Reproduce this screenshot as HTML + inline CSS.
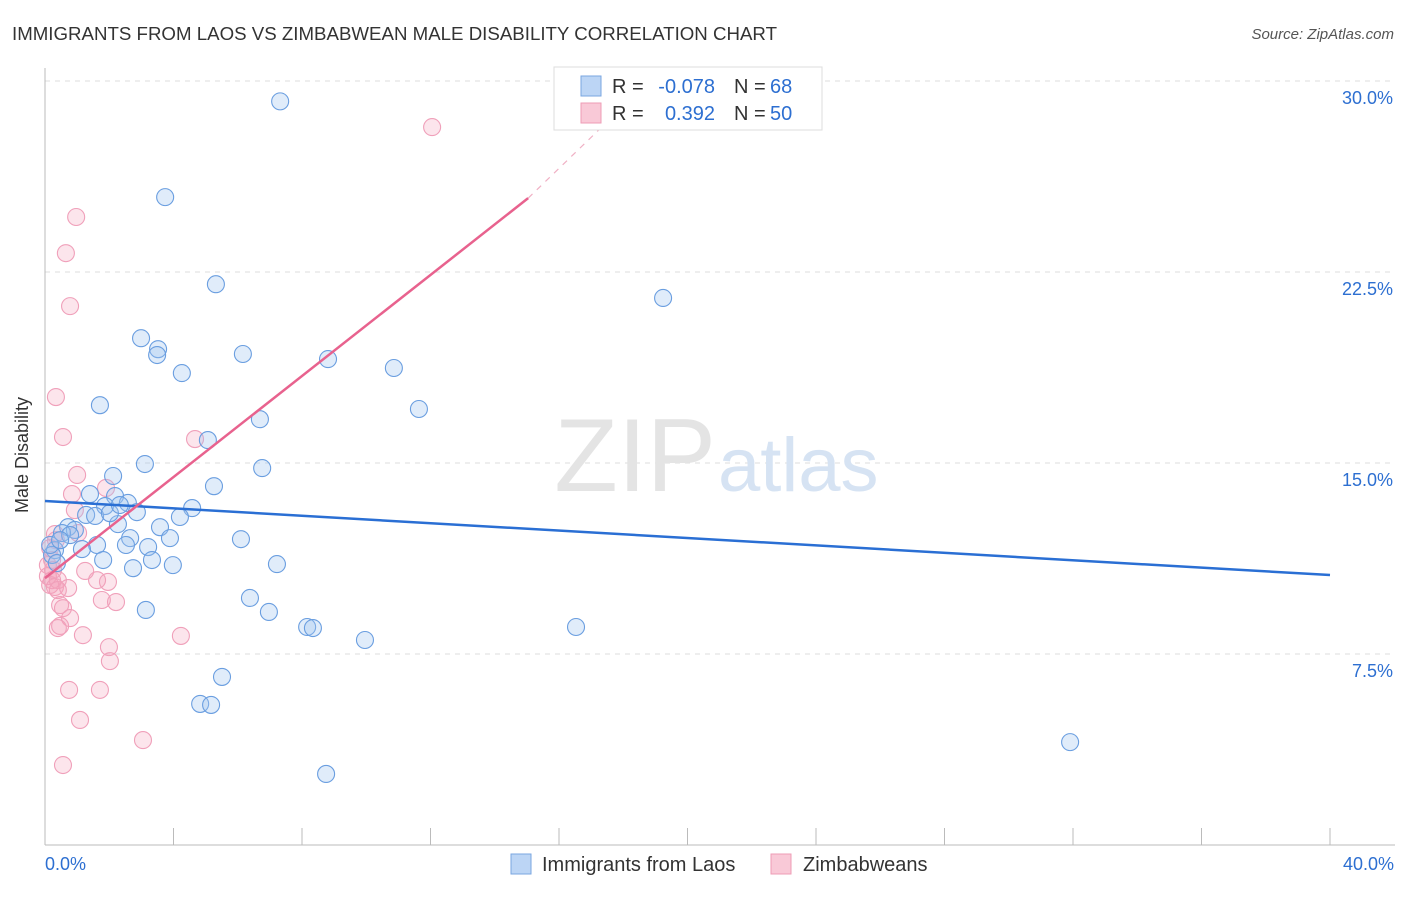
<!DOCTYPE html>
<html><head><meta charset="utf-8"><style>
body{margin:0;background:#fff;font-family:"Liberation Sans",sans-serif;}
svg text{font-family:"Liberation Sans",sans-serif;}
</style></head><body>
<svg width="1406" height="892" xmlns="http://www.w3.org/2000/svg">
<text x="12" y="40" font-size="18" fill="#333" textLength="765" lengthAdjust="spacingAndGlyphs">IMMIGRANTS FROM LAOS VS ZIMBABWEAN MALE DISABILITY CORRELATION CHART</text>
<text x="1394" y="39" font-size="15" fill="#555" text-anchor="end" font-style="italic">Source: ZipAtlas.com</text>
<g id="grid"></g>
<text x="716" y="491" font-size="104" fill="#e4e4e4" text-anchor="end" font-family="Liberation Serif">ZIP</text>
<text x="718" y="491" font-size="76" fill="#d6e3f3">atlas</text>
<text x="28" y="455" font-size="18" fill="#333" text-anchor="middle" transform="rotate(-90 28 455)">Male Disability</text>
<g id="pts"></g>
<g id="lines"></g>
<g>
<rect x="554" y="67" width="268" height="63" fill="#fff" stroke="#ddd"/>
<rect x="581" y="76" width="20" height="20" fill="#bcd5f5" stroke="#7aa6e0"/>
<rect x="581" y="103" width="20" height="20" fill="#f9c9d7" stroke="#ee9cb6"/>
<text x="612" y="93" font-size="20" fill="#333">R =</text>
<text x="715" y="93" font-size="20" fill="#2d6fd1" text-anchor="end">-0.078</text>
<text x="734" y="93" font-size="20" fill="#333">N =</text>
<text x="770" y="93" font-size="20" fill="#2d6fd1">68</text>
<text x="612" y="120" font-size="20" fill="#333">R =</text>
<text x="715" y="120" font-size="20" fill="#2d6fd1" text-anchor="end">0.392</text>
<text x="734" y="120" font-size="20" fill="#333">N =</text>
<text x="770" y="120" font-size="20" fill="#2d6fd1">50</text>
</g>
<g>
<rect x="511" y="854" width="20" height="20" fill="#bcd5f5" stroke="#7aa6e0"/>
<text x="542" y="871" font-size="20" fill="#333">Immigrants from Laos</text>
<rect x="771" y="854" width="20" height="20" fill="#f9c9d7" stroke="#ee9cb6"/>
<text x="803" y="871" font-size="20" fill="#333">Zimbabweans</text>
</g>
<text x="45" y="870" font-size="18" fill="#2d6fd1">0.0%</text>
<text x="1394" y="870" font-size="18" fill="#2d6fd1" text-anchor="end">40.0%</text>
</svg>
<script>
const blueX=[7.32,3.74,5.32,19.24,2.99,3.52,3.49,6.16,8.81,4.26,10.86,1.71,11.64,6.69,5.07,3.11,6.76,2.12,5.26,1.40,2.18,2.58,1.87,4.58,2.86,1.28,1.56,4.20,2.27,3.58,0.72,0.93,0.53,0.78,2.65,3.89,6.10,2.52,1.62,3.21,1.15,0.31,0.22,1.81,3.33,3.98,7.22,2.74,0.37,6.38,3.14,6.97,8.16,8.34,16.53,9.96,5.51,4.83,5.17,31.91,8.75,0.16,0.47,2.02,2.33];
const blueY=[29.2,25.44,22.02,21.48,19.90,19.47,19.24,19.28,19.08,18.53,18.73,17.27,17.12,16.72,15.90,14.96,14.80,14.49,14.09,13.78,13.70,13.43,13.31,13.23,13.07,12.96,12.92,12.88,12.60,12.48,12.48,12.37,12.25,12.17,12.05,12.05,12.01,11.78,11.78,11.70,11.62,11.58,11.39,11.19,11.19,10.99,11.03,10.87,11.07,9.70,9.23,9.15,8.56,8.52,8.56,8.05,6.60,5.54,5.50,4.04,2.79,11.78,11.97,13.03,13.35];
const pinkX=[12.05,0.97,0.65,0.78,0.34,0.56,4.67,1.00,1.90,0.84,0.93,0.31,0.34,1.03,0.16,0.22,1.25,0.09,0.22,0.40,1.62,1.96,0.16,0.31,0.72,0.40,0.47,0.56,1.77,2.21,0.78,0.47,0.40,1.18,4.23,1.99,2.02,0.75,1.71,1.09,3.05,0.56,0.09,0.25];
const pinkY=[28.19,24.66,23.24,21.16,17.59,16.02,15.94,14.53,14.02,13.78,13.15,12.21,11.97,12.25,11.66,11.19,10.76,10.56,10.40,10.40,10.40,10.33,10.21,10.13,10.09,10.01,9.42,9.30,9.62,9.54,8.91,8.60,8.52,8.24,8.21,7.77,7.22,6.09,6.09,4.91,4.12,3.14,10.99,10.80];
const yTicks=[7.5,15,22.5,30];
const yTickLabels=["7.5%","15.0%","22.5%","30.0%"];
const blueTrend=[13.51,10.60];
const pinkTrend=[10.48,25.40,29.25];
const pinkTrendX=[0,15.04,18.2];
const NS="http://www.w3.org/2000/svg";
const sx=v=>45+v/40*1285, sy=v=>845-v*191/7.5;
function mk(t,a,p){const e=document.createElementNS(NS,t);for(const k in a)e.setAttribute(k,a[k]);p.appendChild(e);return e;}
const grid=document.getElementById('grid');
yTicks.forEach((v,i)=>{
 const l=mk('line',{x1:45,x2:1395,y1:sy(v),y2:sy(v),stroke:'#ddd','stroke-dasharray':'5,5'},grid);
 
 
 const t=mk('text',{x:1393,y:sy(v)+23,'font-size':18,fill:'#2d6fd1','text-anchor':'end'},grid);
 t.textContent=yTickLabels[i];
 
 
});
const ax=mk('line',{x1:45,x2:45,y1:68,y2:845,stroke:'#bbb'},grid);


const bx=mk('line',{x1:45,x2:1395,y1:845,y2:845,stroke:'#bbb'},grid);


for(let i=0;i<=10;i++){const t=mk('line',{x1:sx(i*4),x2:sx(i*4),y1:828,y2:845,stroke:'#bbb'},grid);
 
 }
const pts=document.getElementById('pts');
pinkX.forEach((x,i)=>{const c=mk('circle',{cx:sx(x),cy:sy(pinkY[i]),r:8.5,fill:'rgba(244,160,188,0.28)',stroke:'#f0a0ba','stroke-width':1.1},pts);
 
 });
blueX.forEach((x,i)=>{const c=mk('circle',{cx:sx(x),cy:sy(blueY[i]),r:8.5,fill:'rgba(160,196,240,0.32)',stroke:'#6a9ee0','stroke-width':1.1},pts);
 
 });
const lines=document.getElementById('lines');
const b=mk('line',{x1:sx(0),y1:sy(blueTrend[0]),x2:sx(40),y2:sy(blueTrend[1]),stroke:'#2a6fd4','stroke-width':2.5},lines);


const p=mk('line',{x1:sx(pinkTrendX[0]),y1:sy(pinkTrend[0]),x2:sx(pinkTrendX[1]),y2:sy(pinkTrend[1]),stroke:'#e8628e','stroke-width':2.5},lines);


const pd=mk('line',{x1:sx(pinkTrendX[1]),y1:sy(pinkTrend[1]),x2:sx(pinkTrendX[2]),y2:sy(pinkTrend[2]),stroke:'#f0b0c4','stroke-width':1.2,'stroke-dasharray':'6,6'},lines);


</script>
</body></html>
